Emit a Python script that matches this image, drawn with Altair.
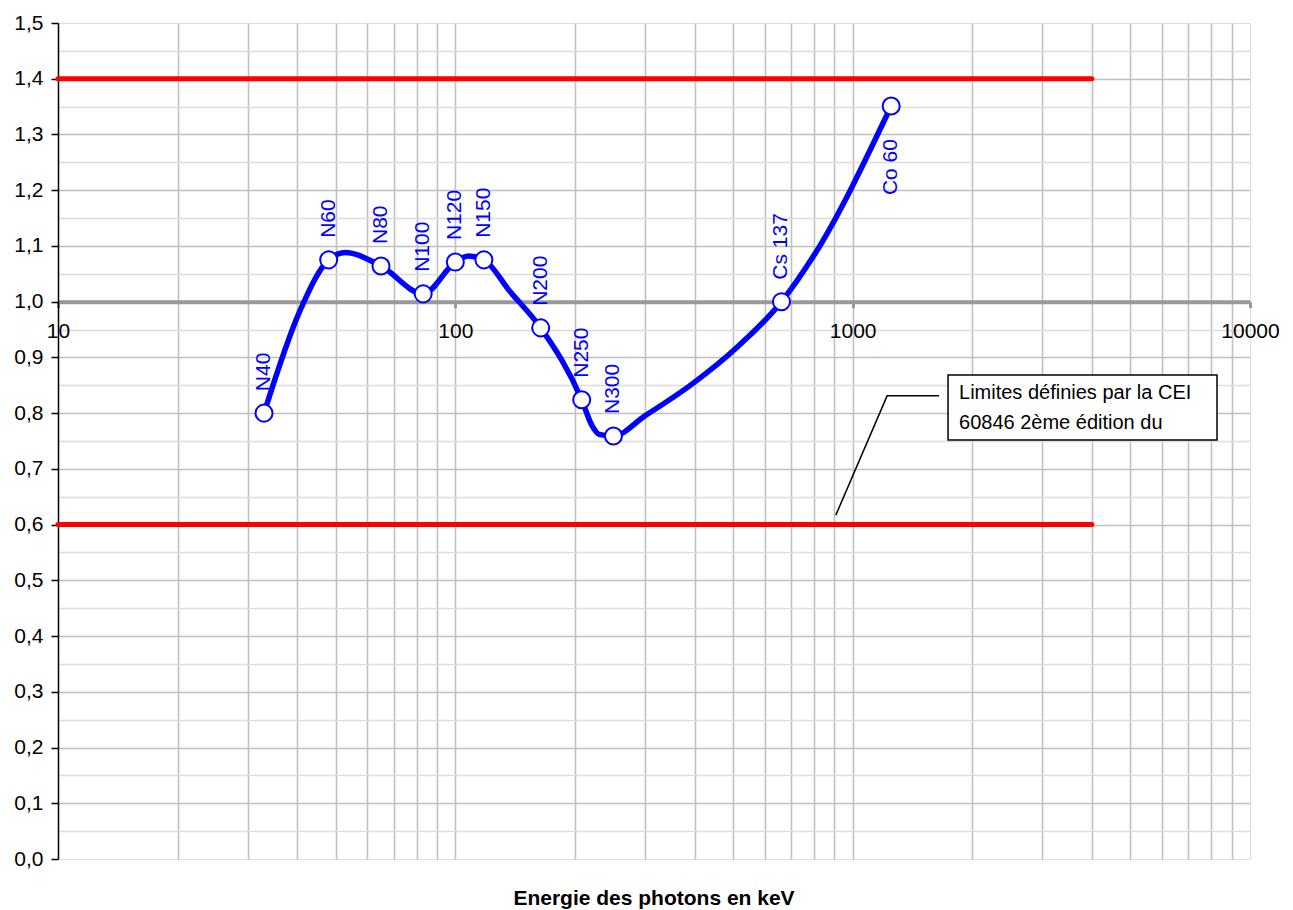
import altair as alt
import pandas as pd

# ---------------- data ----------------
point_labels = ["N40", "N60", "N80", "N100", "N120", "N150", "N200", "N250", "N300", "Cs 137", "Co 60"]
point_energy = [33, 48, 65, 83, 100, 118, 164, 208, 250, 662, 1250]
point_response = [0.80, 1.075, 1.064, 1.014, 1.071, 1.075, 0.953, 0.824, 0.759, 1.0, 1.351]

curve_energy = [33, 40.6, 48, 52.8, 65, 83, 100, 108, 118, 137, 164, 208, 221, 230, 250,
                300, 394, 515, 662, 794, 1250]
curve_response = [0.80, 0.983, 1.075, 1.088, 1.064, 1.014, 1.071, 1.082, 1.075, 1.019, 0.953,
                  0.824, 0.777, 0.762, 0.759, 0.795, 0.852, 0.920, 1.0, 1.08, 1.351]

limit_values = [1.4, 0.6]
limit_start = [10, 10]
limit_end = [4000, 4000]

note_lines = ["Limites définies par la CEI", "60846 2ème édition du"]
note_text_x = [1852, 1852]
note_text_y = [0.837, 0.783]
note_box_x = [1738, 8260]
note_box_y = [0.752, 0.8685]
leader_x = [907, 1221, 1650]
leader_y = [0.617, 0.831, 0.831]

x_title = "Energie des photons en keV"

# ---------------- tables ----------------
points = pd.DataFrame({"label": point_labels, "energy": point_energy, "response": point_response})
curve = pd.DataFrame({"energy": curve_energy, "response": curve_response})
limits = pd.DataFrame({"y": limit_values, "x0": limit_start, "x1": limit_end})
note_text = pd.DataFrame({"text": note_lines, "x": note_text_x, "y": note_text_y})
note_box = pd.DataFrame({"x0": [note_box_x[0]], "x1": [note_box_x[1]],
                         "y0": [note_box_y[0]], "y1": [note_box_y[1]]})
leader = pd.DataFrame({"x": leader_x, "y": leader_y, "i": list(range(len(leader_x)))})

W, H = 1192, 836
FONT = "Liberation Sans"
BLUE = "#0000FF"

x_grid = [m * 10 ** d for d in range(1, 4) for m in range(1, 10)] + [10000]
y_grid = [round(i * 0.05, 2) for i in range(31)]

decade_test = "indexof([10,100,1000,10000], datum.value) >= 0"
major_y = "round(datum.value*20) % 2 == 0"

x_axis = alt.Axis(
    values=x_grid,
    labelExpr=f"{decade_test} ? format(datum.value, 'd') : ''",
    tickOpacity={"condition": {"test": decade_test, "value": 1}, "value": 0},
    offset=-(H * 2.0 / 3.0),
    domainColor="#999999", domainWidth=4,
    tickColor="#999999", tickWidth=3, tickSize=6,
    labelPadding=13, labelFlush=False, labelOverlap=False,
    labelFontSize=21, labelFont=FONT, labelColor="black",
    gridColor="#c0c0c0", gridWidth=1.6,
    gridOpacity={"condition": {"test": "datum.value == 10 || datum.value == 10000", "value": 0}, "value": 1},
    title=None,
)
y_axis = alt.Axis(
    values=y_grid,
    labelExpr=f"{major_y} ? replace(format(datum.value, '.1f'), '.', ',') : ''",
    tickOpacity={"condition": {"test": major_y, "value": 1}, "value": 0},
    gridColor={"condition": {"test": major_y, "value": "#c0c0c0"}, "value": "#dcdcdc"},
    gridOpacity={"condition": {"test": "abs(datum.value-1) < 0.001 || datum.value < 0.01 || datum.value > 1.49", "value": 0}, "value": 1},
    gridWidth=1.6,
    domainColor="black", domainWidth=1.5,
    tickColor="black", tickWidth=1.5, tickSize=7,
    labelPadding=8, labelOverlap=False,
    labelFontSize=21, labelFont=FONT, labelColor="black",
    title=None,
)

xs = alt.Scale(type="log", domain=[10, 10000], nice=False)
ys = alt.Scale(domain=[0, 1.5], nice=False, zero=False)


def X(field):
    return alt.X(field, type="quantitative", scale=xs, axis=x_axis)


def Y(field):
    return alt.Y(field, type="quantitative", scale=ys, axis=y_axis)


limit_layer = alt.Chart(limits).mark_rule(color="#FF0000", strokeWidth=5, strokeCap="round").encode(
    x=X("x0"), x2="x1", y=Y("y"))

leader_layer = alt.Chart(leader).mark_line(color="black", strokeWidth=1.5).encode(
    x=X("x"), y=Y("y"), order="i:Q")

box_layer = alt.Chart(note_box).mark_rect(fill="white", stroke="black", strokeWidth=1.5).encode(
    x=X("x0"), x2="x1", y=Y("y0"), y2="y1")

note_layer = alt.Chart(note_text).mark_text(align="left", baseline="middle", fontSize=20,
                                            font=FONT, color="black").encode(
    x=X("x"), y=Y("y"), text="text:N")

line_layer = alt.Chart(curve).mark_line(color=BLUE, strokeWidth=5.5, interpolate="monotone",
                                        strokeJoin="round").encode(
    x=X("energy"), y=Y("response"))

marker_layer = alt.Chart(points).mark_point(shape="circle", filled=True, fill="white", stroke=BLUE,
                                            strokeWidth=2, size=290, opacity=1).encode(
    x=X("energy"), y=Y("response"))

label_up = alt.Chart(points).transform_filter("datum.label != 'Co 60'").mark_text(
    angle=270, align="left", baseline="middle", dx=22, fontSize=21, font=FONT, color=BLUE).encode(
    x=X("energy"), y=Y("response"), text="label:N")

label_down = alt.Chart(points).transform_filter("datum.label == 'Co 60'").mark_text(
    angle=270, align="right", baseline="middle", dx=-33, fontSize=21, font=FONT, color=BLUE).encode(
    x=X("energy"), y=Y("response"), text="label:N")

chart = alt.layer(
    limit_layer, leader_layer, box_layer, note_layer, line_layer, marker_layer, label_up, label_down
).properties(
    width=W, height=H,
    title=alt.TitleParams(x_title, orient="bottom", fontSize=21, fontWeight="bold", font=FONT,
                          color="black", anchor="middle", offset=19),
    padding={"left": 5, "top": 4, "right": 5, "bottom": 0},
).configure_view(
    stroke="#808080", strokeWidth=2
).configure(
    font=FONT, background="white"
)

chart.save("out.html", embed_options={"renderer": "svg", "actions": False})
